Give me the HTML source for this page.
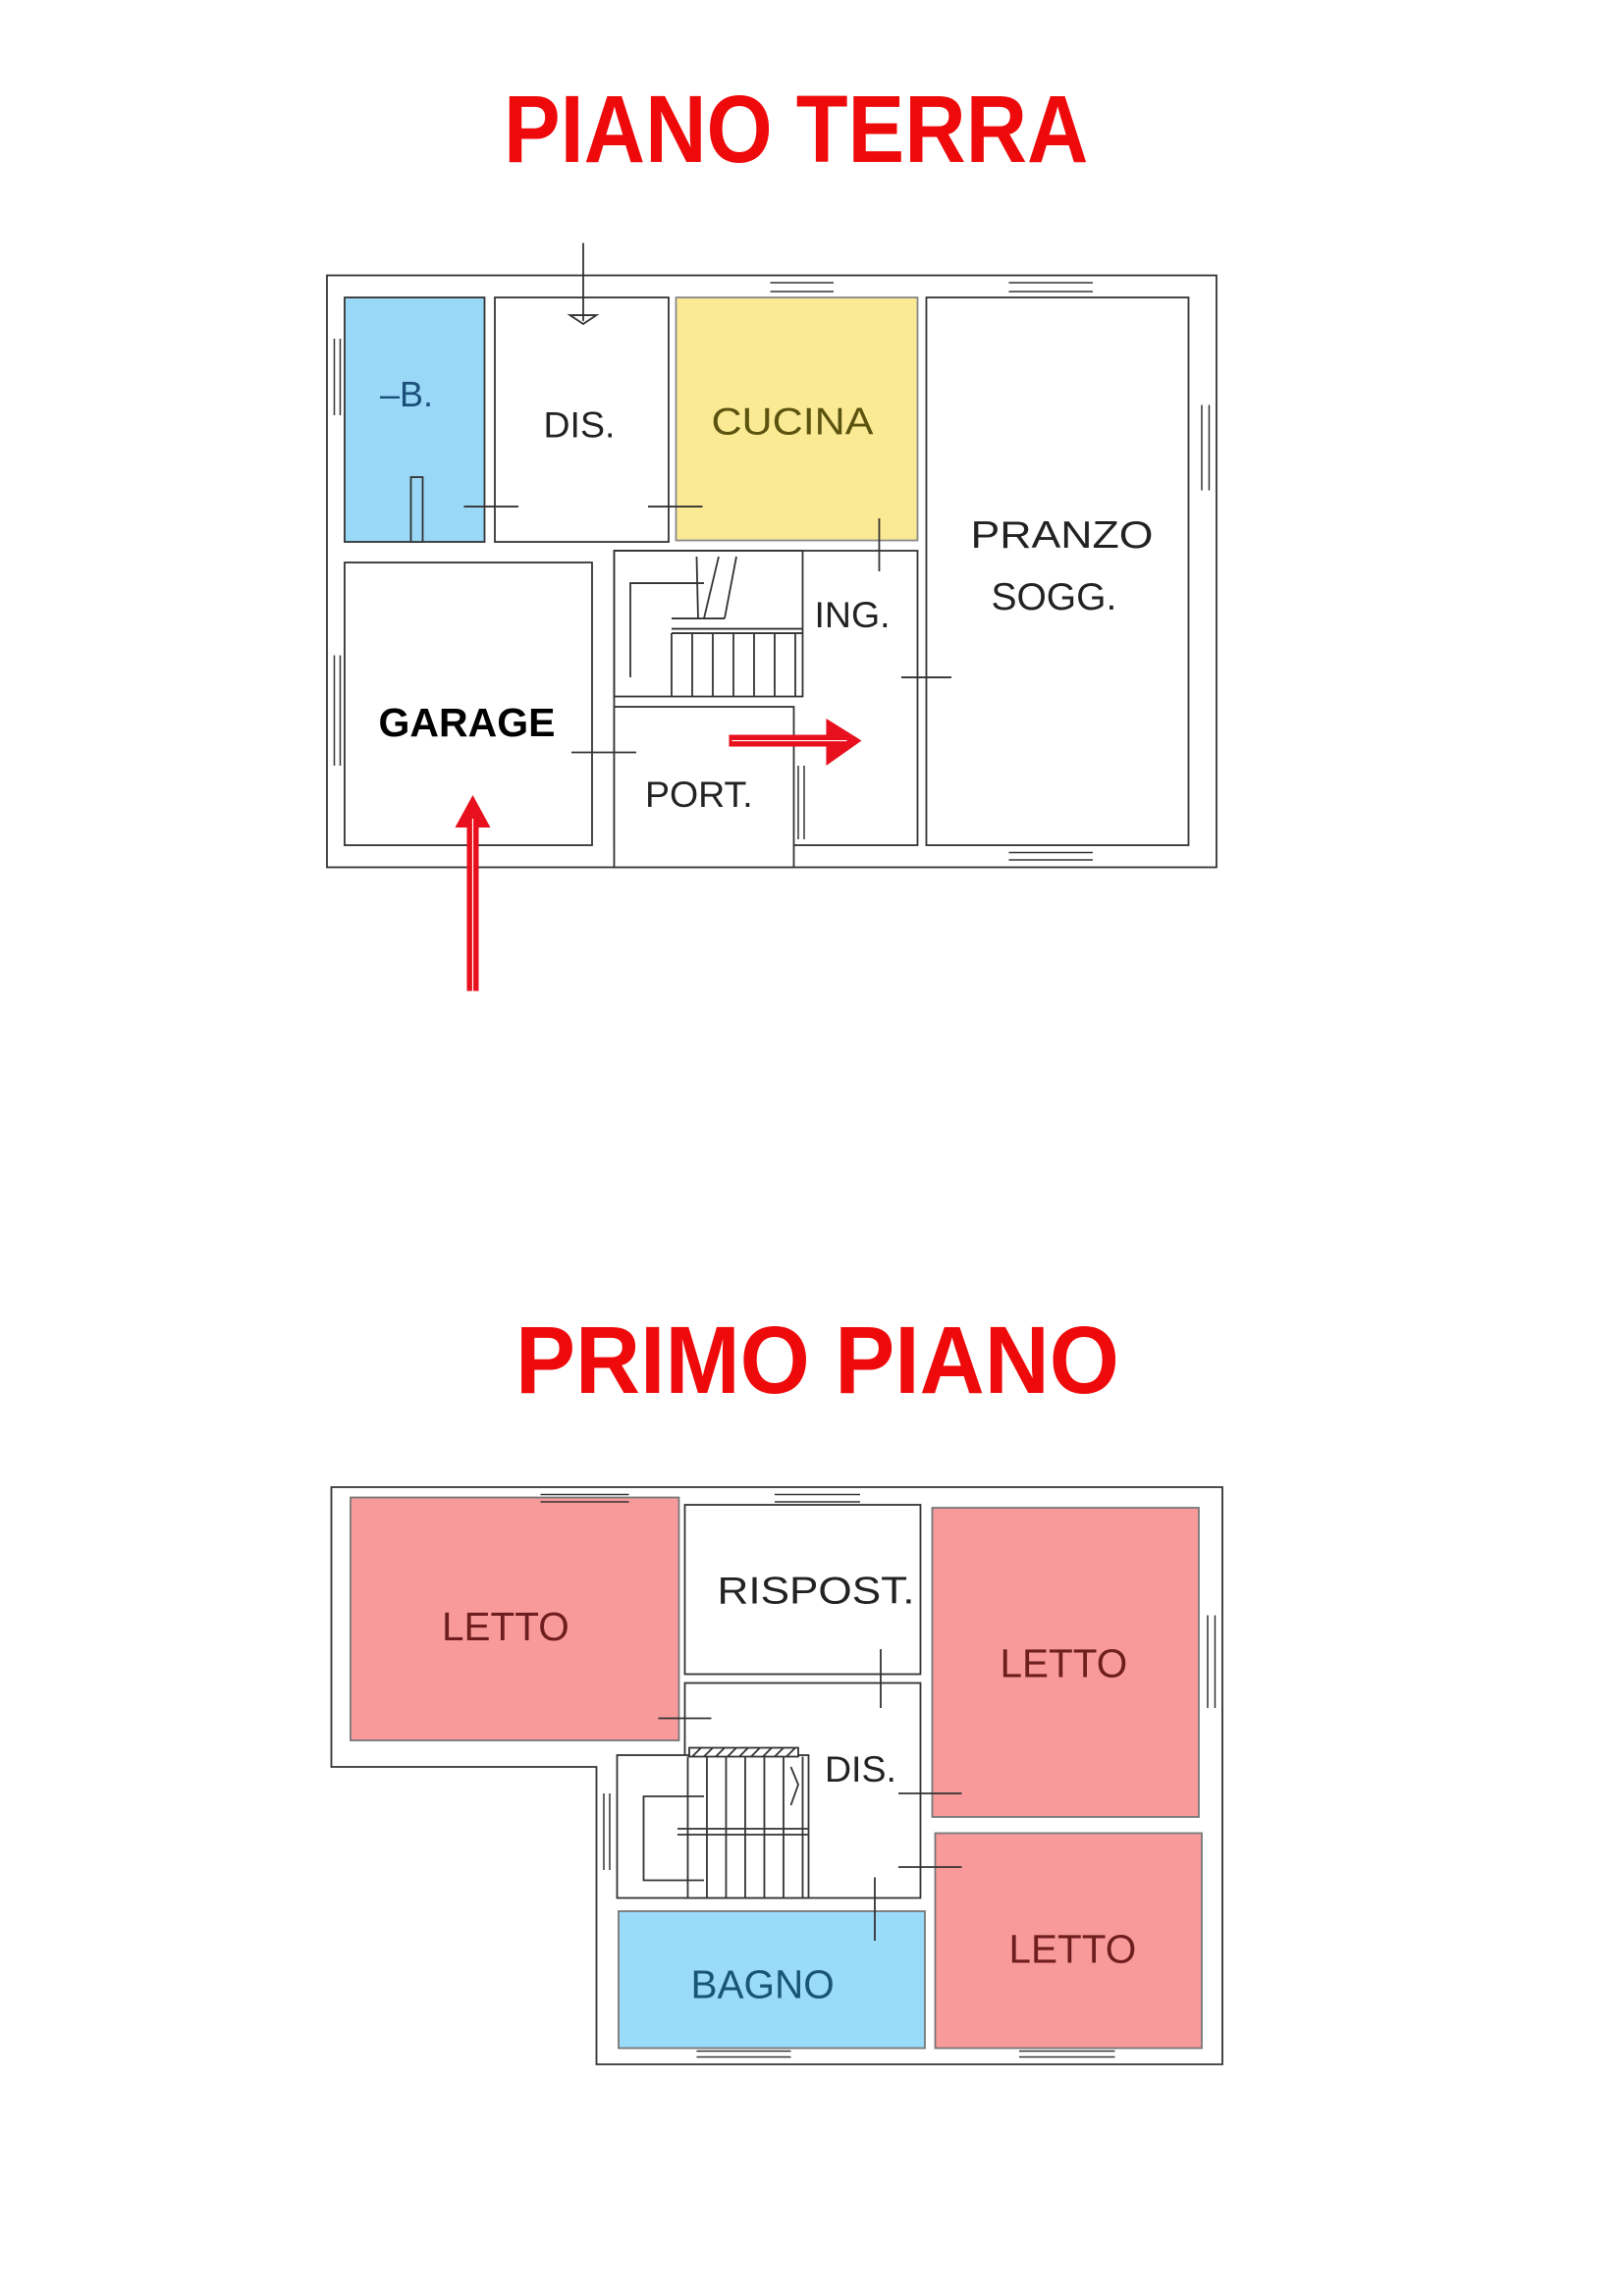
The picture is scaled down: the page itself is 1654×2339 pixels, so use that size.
<!DOCTYPE html>
<html><head><meta charset="utf-8"><style>
html,body{margin:0;padding:0;background:#fff;}
svg{display:block;}
text{font-family:"Liberation Sans",sans-serif;}
</style></head><body>
<svg width="1654" height="2339" viewBox="0 0 1102.7 1559.3" xmlns="http://www.w3.org/2000/svg">
<rect width="1102.7" height="1559.3" fill="#fff"/>
<!-- Titles -->
<text x="342" y="110" font-size="65" font-weight="bold" fill="#ee0a0a" textLength="397" lengthAdjust="spacingAndGlyphs">PIANO TERRA</text>
<text x="350" y="946" font-size="65" font-weight="bold" fill="#ee0a0a" textLength="410" lengthAdjust="spacingAndGlyphs">PRIMO PIANO</text>

<g fill="none" stroke="#333" stroke-width="1.2">
<!-- GROUND FLOOR -->
<rect x="222" y="187" width="604" height="402" fill="#fff"/>
<rect x="234" y="202" width="95" height="166" fill="#99d8f6"/>
<rect x="336" y="202" width="118" height="166"/>
<rect x="459" y="202" width="164" height="165" fill="#fbea94" stroke="#888"/>
<rect x="629" y="202" width="178" height="372"/>
<rect x="234" y="382" width="168" height="192"/>
<rect x="417" y="374" width="206" height="200"/>
<rect x="417" y="374" width="128" height="99"/>
<rect x="417" y="480" width="122" height="109" fill="#fff"/>
<!-- windows ground -->
<g stroke-width="1">
<line x1="523" y1="192" x2="566" y2="192"/><line x1="523" y1="198" x2="566" y2="198"/>
<line x1="685" y1="192" x2="742" y2="192"/><line x1="685" y1="198" x2="742" y2="198"/>
<line x1="685" y1="579" x2="742" y2="579"/><line x1="685" y1="584" x2="742" y2="584"/>
<line x1="227" y1="230" x2="227" y2="282"/><line x1="231" y1="230" x2="231" y2="282"/>
<line x1="227" y1="445" x2="227" y2="520"/><line x1="231" y1="445" x2="231" y2="520"/>
<line x1="816" y1="275" x2="816" y2="333"/><line x1="821" y1="275" x2="821" y2="333"/>
<line x1="542" y1="520" x2="542" y2="570"/><line x1="546" y1="520" x2="546" y2="570"/>
</g>
<!-- stairs ground -->
<line x1="456" y1="427" x2="545" y2="427"/><line x1="456" y1="430" x2="545" y2="430"/>
<line x1="456" y1="430" x2="456" y2="473"/><line x1="470" y1="430" x2="470" y2="473"/><line x1="484" y1="430" x2="484" y2="473"/><line x1="498" y1="430" x2="498" y2="473"/><line x1="512" y1="430" x2="512" y2="473"/><line x1="526" y1="430" x2="526" y2="473"/><line x1="540" y1="430" x2="540" y2="473"/>
<polyline points="428,460 428,396 478,396"/>
<line x1="473" y1="378" x2="474" y2="420"/><line x1="488" y1="378" x2="478" y2="420"/><line x1="500" y1="378" x2="492" y2="420"/>
<line x1="456" y1="420" x2="492" y2="420"/>
<!-- door ticks -->
<line x1="396" y1="165" x2="396" y2="218"/><path d="M387 214 L405 214 L396 220 Z"/>
<line x1="315" y1="344" x2="352" y2="344"/><line x1="440" y1="344" x2="477" y2="344"/>
<line x1="597" y1="352" x2="597" y2="388"/><line x1="612" y1="460" x2="646" y2="460"/>
<line x1="388" y1="511" x2="432" y2="511"/>
<!-- B hatched -->
<rect x="279" y="324" width="8" height="44" fill="#99d8f6"/>
</g>
<text x="258" y="276" font-size="24" fill="#1a4f7a">–B.</text>
<text x="369" y="297" font-size="25" fill="#222">DIS.</text>
<text x="483" y="295" font-size="26" fill="#5b5410" textLength="110" lengthAdjust="spacingAndGlyphs">CUCINA</text>
<text x="659" y="372" font-size="26" fill="#222" textLength="124" lengthAdjust="spacingAndGlyphs">PRANZO</text>
<text x="673" y="414" font-size="26" fill="#222">SOGG.</text>
<text x="553" y="426" font-size="25" fill="#222">ING.</text>
<text x="257" y="500" font-size="27" font-weight="bold" fill="#000" textLength="120" lengthAdjust="spacingAndGlyphs">GARAGE</text>
<text x="438" y="548" font-size="25" fill="#222">PORT.</text>
<!-- red arrows -->
<g fill="#e8101c">
<rect x="317" y="558" width="8" height="115"/>
<path d="M309 562 L321 540 L333 562 Z"/>
<rect x="495" y="499" width="70" height="8"/>
<path d="M561 488 L585 503 L561 520 Z"/>
</g>
<line x1="321" y1="556" x2="321" y2="673" stroke="#fff" stroke-width="0.8"/>
<line x1="497" y1="503" x2="575" y2="503" stroke="#fff" stroke-width="0.8"/>

<!-- FIRST FLOOR -->
<g fill="none" stroke="#333" stroke-width="1.2">
<polygon points="225,1010 830,1010 830,1402 405,1402 405,1200 225,1200" fill="#fff"/>
<rect x="238" y="1017" width="223" height="165" fill="#f99a9a" stroke="#777"/>
<rect x="465" y="1022" width="160" height="115"/>
<rect x="465" y="1143" width="160" height="146"/>
<rect x="419" y="1192" width="130" height="97" fill="#fff"/>
<rect x="633" y="1024" width="181" height="210" fill="#f99a9a" stroke="#777"/>
<rect x="635" y="1245" width="181" height="146" fill="#f99a9a" stroke="#777"/>
<rect x="420" y="1298" width="208" height="93" fill="#99dbf8" stroke="#777"/>
<g stroke-width="1">
<line x1="367" y1="1015" x2="427" y2="1015"/><line x1="367" y1="1020" x2="427" y2="1020"/>
<line x1="526" y1="1015" x2="584" y2="1015"/><line x1="526" y1="1020" x2="584" y2="1020"/>
<line x1="820" y1="1097" x2="820" y2="1160"/><line x1="825" y1="1097" x2="825" y2="1160"/>
<line x1="410" y1="1218" x2="410" y2="1270"/><line x1="414" y1="1218" x2="414" y2="1270"/>
<line x1="473" y1="1397" x2="537" y2="1397"/><line x1="473" y1="1393" x2="537" y2="1393"/>
<line x1="692" y1="1397" x2="757" y2="1397"/><line x1="692" y1="1393" x2="757" y2="1393"/>
</g>
<!-- stairs first -->
<rect x="468" y="1187" width="74" height="6" fill="#fff"/>
<path d="M470 1193 L476 1187 M478 1193 L484 1187 M486 1193 L492 1187 M494 1193 L500 1187 M502 1193 L508 1187 M510 1193 L516 1187 M518 1193 L524 1187 M526 1193 L532 1187 M534 1193 L540 1187"/>
<line x1="460" y1="1242" x2="549" y2="1242"/><line x1="460" y1="1246" x2="549" y2="1246"/>
<line x1="467" y1="1193" x2="467" y2="1289"/><line x1="480" y1="1193" x2="480" y2="1289"/><line x1="493" y1="1193" x2="493" y2="1289"/><line x1="506" y1="1193" x2="506" y2="1289"/><line x1="519" y1="1193" x2="519" y2="1289"/><line x1="532" y1="1193" x2="532" y2="1289"/><line x1="545" y1="1193" x2="545" y2="1289"/>
<polyline points="478,1277 437,1277 437,1220 478,1220"/>
<path d="M537 1200 L542 1212 L537 1226"/>
<!-- door ticks -->
<line x1="598" y1="1120" x2="598" y2="1160"/><line x1="447" y1="1167" x2="483" y2="1167"/>
<line x1="610" y1="1218" x2="653" y2="1218"/><line x1="610" y1="1268" x2="653" y2="1268"/>
<line x1="594" y1="1275" x2="594" y2="1318"/>
</g>
<text x="300" y="1114" font-size="27" fill="#6e1e1e">LETTO</text>
<text x="487" y="1089" font-size="26" fill="#222" textLength="134" lengthAdjust="spacingAndGlyphs">RISPOST.</text>
<text x="679" y="1139" font-size="27" fill="#6e1e1e">LETTO</text>
<text x="560" y="1210" font-size="25" fill="#222">DIS.</text>
<text x="685" y="1333" font-size="27" fill="#6e1e1e">LETTO</text>
<text x="469" y="1357" font-size="27" fill="#1a5575">BAGNO</text>
</svg>
</body></html>
